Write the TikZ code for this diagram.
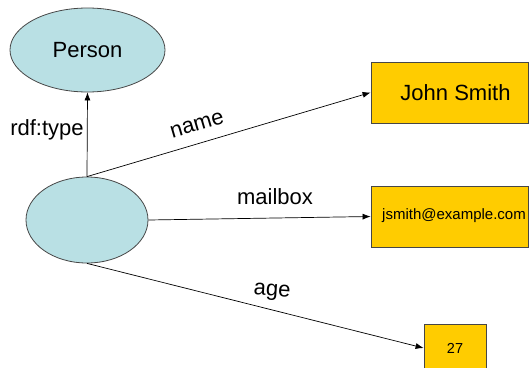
\documentclass[tikz,border=0pt]{standalone}
\usepackage{fontspec}
\setmainfont{Liberation Sans}
\usetikzlibrary{shapes.geometric,arrows.meta}
\definecolor{classfill}{RGB}{185,224,228}
\definecolor{litfill}{RGB}{255,204,0}
\definecolor{edgegray}{RGB}{70,70,70}
\tikzset{
  res/.style={ellipse, draw=edgegray, line width=0.8pt, fill=classfill, inner sep=0pt},
  lit/.style={rectangle, draw=edgegray, line width=0.8pt, fill=litfill, inner sep=0pt},
  big/.style={font=\fontsize{22}{26}\selectfont},
  prop/.style={draw=black, line width=0.7pt, -{Latex[length=8pt,width=6pt]}},
}
\begin{document}
\begin{tikzpicture}[x=1pt,y=-1pt]
\useasboundingbox (0,0) rectangle (529,367);
% resources
\node[res, minimum width=155, minimum height=84, big] (person) at (87.5,50) {Person};
\node[res, minimum width=122, minimum height=86] (subj) at (87,220) {};
% literal values
\node[lit, minimum width=157, minimum height=61] (john) at (449.5,92.5) {};
\node[big] (johntxt) at (455.5,93) {John Smith};
\node[lit, minimum width=157, minimum height=61] (mail) at (449.5,216.5) {};
\node[font=\fontsize{15}{18}\selectfont] (mailtxt) at (454,216) {jsmith@example.com};
\node[lit, minimum width=62, minimum height=48] (age) at (455,348) {};
\node[font=\fontsize{14.5}{17}\selectfont] (agetxt) at (455,348) {27};
% properties
\draw[prop] (subj.north) -- (person.south);
\draw[prop] (subj.north) -- (john.west);
\draw[prop] (subj.east) -- (mail.west);
\draw[prop] (subj.south) -- (age.west);
% property labels
\node[big] (ltype) at (47,130) {rdf:type};
\node[big, rotate=16.5] (lname) at (197,125) {name};
\node[big] (lmail) at (275,197) {mailbox};
\node[big, rotate=-4] (lage) at (272,292) {age};
\end{tikzpicture}
\end{document}
